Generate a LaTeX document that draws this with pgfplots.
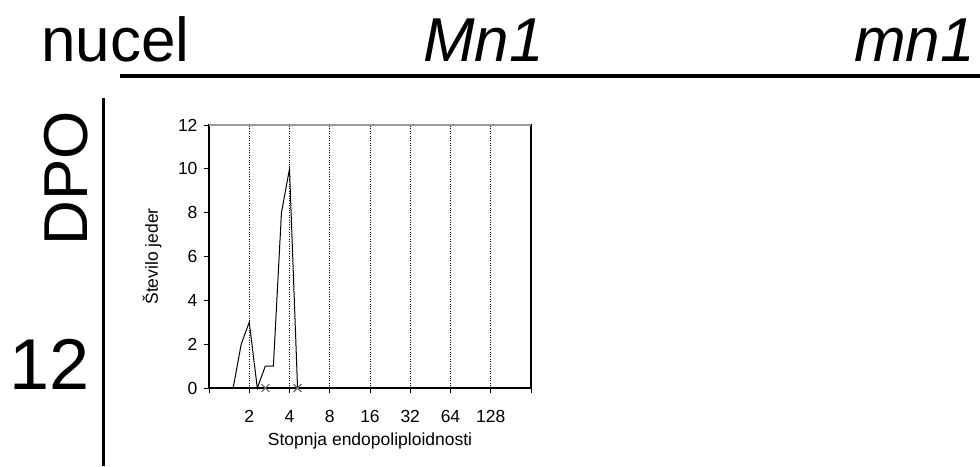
\documentclass[border=0pt]{standalone}
\usepackage{pgfplots}
\pgfplotsset{compat=1.18}
\usepackage{fontspec}
\setmainfont{Liberation Sans}
\begin{document}
\begin{tikzpicture}[x=1pt,y=1pt]
\useasboundingbox (0,0) rectangle (980,466);
% titles
\node[anchor=base west, inner sep=0] at (41,404) {\fontsize{62}{62}\selectfont nucel};
\node[anchor=base west, inner sep=0] at (423,404) {\fontsize{62}{62}\selectfont\itshape Mn1};
\node[anchor=base west, inner sep=0] at (854,404) {\fontsize{62}{62}\selectfont\itshape mn1};
\draw[line width=4pt] (120,390) -- (980,390);
\draw[line width=3pt] (103,368) -- (103,0);
\node[rotate=90, inner sep=0] at (66,288) {\fontsize{62}{62}\selectfont DPO};
\node[anchor=base west, inner sep=0] at (9,76) {\fontsize{72}{72}\selectfont 12};
\begin{axis}[
  at={(209pt,78pt)}, anchor=south west,
  scale only axis, width=322pt, height=263pt,
  xmin=0, xmax=8, ymin=0, ymax=12,
  xtick={0,...,8}, xticklabels={,2,4,8,16,32,64,128,},
  ytick={0,2,...,12},
  xtick pos=left, ytick pos=left,
  tick align=outside, major tick length=5pt,
  tick style={black, line width=0.8pt},
  axis line style={black, line width=1.4pt},
  xmajorgrids, major grid style={black, dotted, line width=0.9pt},
  tick label style={font=\fontsize{17.5}{18}\selectfont},
  xticklabel style={anchor=base, yshift=-29pt},
  yticklabel style={xshift=-3pt},
  /pgf/number format/assume math mode=true,
  label style={font=\fontsize{17.5}{17.5}\selectfont},
  xlabel={Stopnja endopoliploidnosti},
  ylabel={Število jeder},
  xlabel style={at={(axis description cs:0.5,-0.2)}, anchor=center},
  ylabel style={at={(axis description cs:-0.177,0.5)}, anchor=center},
  clip=false,
]
\addplot[black, line width=1pt, mark=none] coordinates {
 (0,0) (0.6,0) (0.8,2) (1.0,3) (1.2,0) (1.4,1) (1.6,1) (1.8,8) (2.0,10) (2.2,0) (8,0)
};
\addplot[black!60, only marks, mark=x, mark size=5.5pt, line width=1.2pt] coordinates {
 (1.4,0) (2.2,0)
};
\draw[gray!80, line width=1.4pt] (axis cs:0,12) -- (axis cs:8,12);
\end{axis}
\end{tikzpicture}
\end{document}
